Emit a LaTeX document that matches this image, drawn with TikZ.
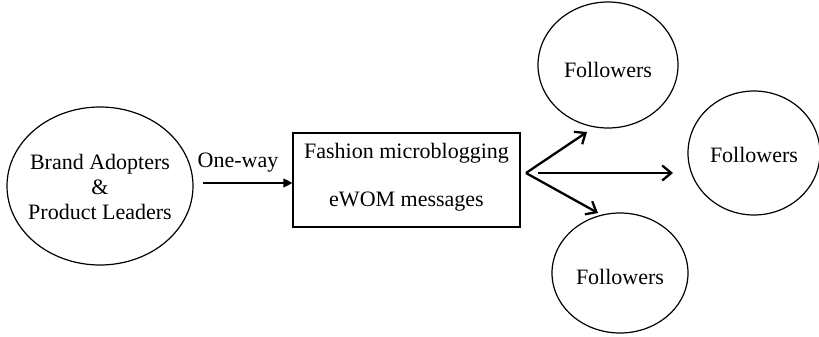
\documentclass[tikz,border=0pt]{standalone}
\usepackage{fontspec}
\setmainfont{Liberation Serif}
\usetikzlibrary{shapes.geometric,arrows.meta}
\begin{document}
\begin{tikzpicture}[x=1pt,y=-1pt,
  every node/.style={font=\fontsize{22}{25}\selectfont, inner sep=0pt},
  oval/.style={draw, ellipse, line width=1.2pt},
  fan/.style={line width=2.3pt, -{Straight Barb[length=9pt,width=15pt,line width=2.3pt]}}]
\useasboundingbox (0,0) rectangle (819,337);
\node[oval, minimum width=186, minimum height=158] (src) at (100,186) {};
\node[align=center] (srct) at (100,187) {Brand Adopters\\\&\\Product Leaders};
\node[draw, line width=1.2pt, minimum width=227, minimum height=94] (box) at (406.5,180) {};
\node (l1) at (406.5,153) {Fashion microblogging};
\node (l2) at (406.5,202) {eWOM messages};
\node (ow) at (238,163) {One-way};
\coordinate (a0) at (203,183);
\draw[line width=1.3pt, -{Triangle[length=9pt,width=9pt]}] (a0) -- (box.west |- a0);
\node[oval, minimum width=140, minimum height=126] (f1) at (608,65) {};
\node at (608,70) {Followers};
\node[oval, minimum width=132, minimum height=124] (f2) at (754,153) {};
\node at (754,155) {Followers};
\node[oval, minimum width=136, minimum height=120] (f3) at (620,273) {};
\node at (620,277) {Followers};
\coordinate (o) at (526,173);
\coordinate (m0) at (538,173);
\coordinate (t1) at (587,132);
\coordinate (t2) at (673,173);
\coordinate (t3) at (598,213);
\draw[fan] (o) -- (t1);
\draw[fan] (m0) -- (t2);
\draw[fan] (o) -- (t3);
\end{tikzpicture}
\end{document}
